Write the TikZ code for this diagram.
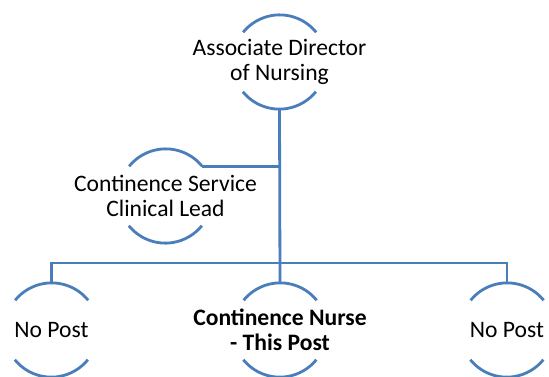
\documentclass[tikz,border=0pt]{standalone}
\usepackage{fontspec}
\setmainfont{Carlito}
\definecolor{ringblue}{HTML}{4A7EBB}
\begin{document}
\begin{tikzpicture}[x=1pt,y=1pt,
  ring/.style={circle, minimum size=94pt, inner sep=0pt, draw=none},
  txt/.style={align=center, font=\fontsize{23.6}{25}\selectfont, text=black, inner sep=0pt},
  link/.style={draw=ringblue, line width=2.8pt},
  arcline/.style={draw=ringblue, line width=2.8pt}]
\useasboundingbox (0,0) rectangle (549,376);
% posts, as rings carrying their titles
\node[ring, label={[txt]center:Associate Director\\of Nursing}] (dir) at (279.5,314) {};
\node[ring, label={[txt]center:Continence Service\\Clinical Lead}] (lead) at (165.5,180) {};
\node[ring, label={[txt]center:No Post}] (left) at (51.5,46) {};
\node[ring, label={[txt, font=\fontsize{23.6}{25}\selectfont\bfseries]center:Continence Nurse\\- This Post}] (nurse) at (280,46) {};
\node[ring, label={[txt]center:No Post}] (right) at (507,46) {};
% upper and lower arcs of each ring
\foreach \n in {dir,lead,left,nurse,right}{
  \draw[arcline] (\n.39) arc[start angle=39, end angle=141, radius=47pt];
  \draw[arcline] (\n.219) arc[start angle=219, end angle=321, radius=47pt];
}
% reporting lines
\coordinate (bus) at (279.5,113);
\draw[link] (dir.south) -- (nurse.north);
\draw[link] (lead.39) -- (lead.39 -| dir.south);
\draw[link] (left.north) |- (bus) -| (right.north);
\end{tikzpicture}
\end{document}
